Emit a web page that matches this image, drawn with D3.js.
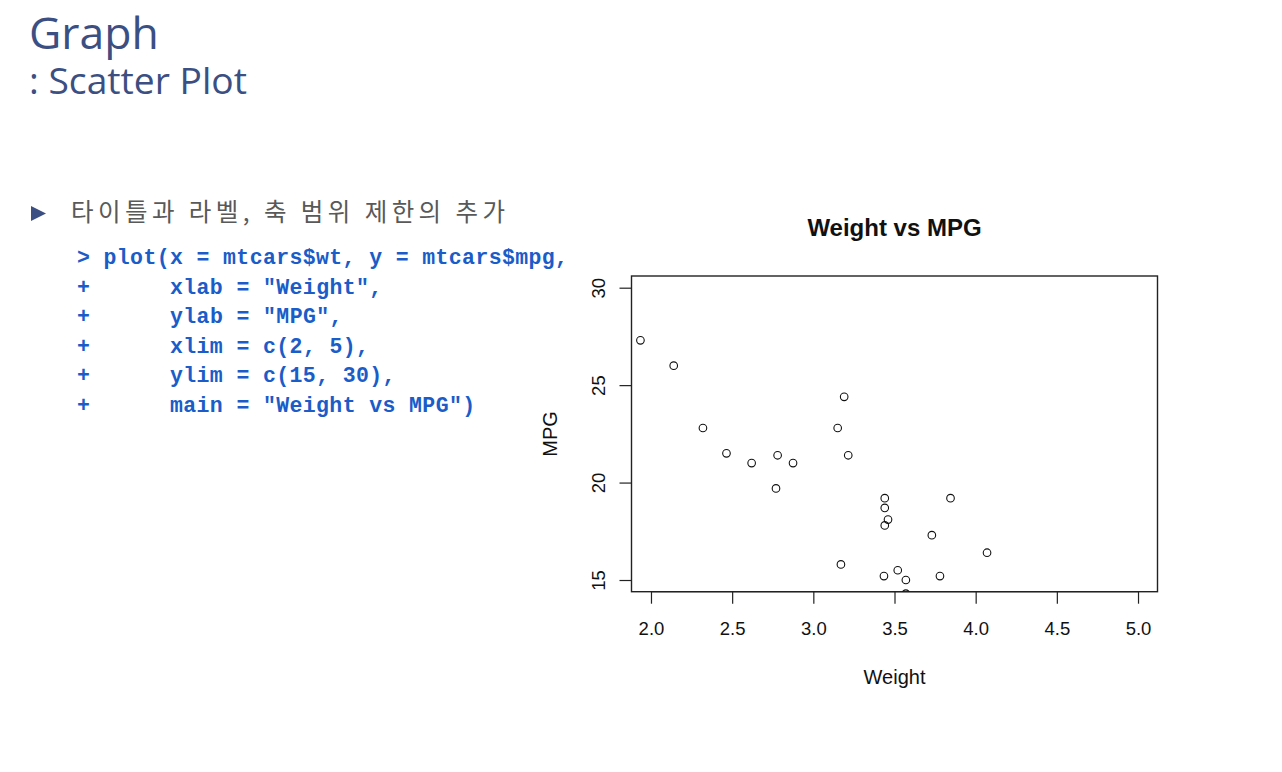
<!DOCTYPE html>
<html><head><meta charset="utf-8">
<script src="https://cdn.jsdelivr.net/npm/d3@7"></script>
<style>
html,body{margin:0;padding:0;background:#fff;}
svg{display:block;}
</style></head>
<body>
<svg id="c" width="1282" height="772"></svg>
<script>
// Data (visible mtcars points: weight vs mpg)
const weights = [1.935, 2.140, 2.320, 2.465, 2.620, 2.770, 2.780, 2.875, 3.150, 3.170, 3.190, 3.215,
                 3.435, 3.440, 3.440, 3.440, 3.460, 3.520, 3.570, 3.570, 3.730, 3.780, 3.845, 4.070];
const mpgs    = [27.3, 26.0, 22.8, 21.5, 21.0, 19.7, 21.4, 21.0, 22.8, 15.8, 24.4, 21.4,
                 15.2, 19.2, 18.7, 17.8, 18.1, 15.5, 15.0, 14.3, 17.3, 15.2, 19.2, 16.4];
const xTicks = [2.0, 2.5, 3.0, 3.5, 4.0, 4.5, 5.0];
const yTicks = [15, 20, 25, 30];
const xlim = [2, 5];
const ylim = [15, 30];
const codeLines = [
  "> plot(x = mtcars$wt, y = mtcars$mpg,",
  "+      xlab = \"Weight\",",
  "+      ylab = \"MPG\",",
  "+      xlim = c(2, 5),",
  "+      ylim = c(15, 30),",
  "+      main = \"Weight vs MPG\")"
];

const svg = d3.select("#c");

// Slide header
svg.append("text").attr("x", 29).attr("y", 49)
  .attr("font-family", "Open Sans, sans-serif").attr("font-size", 44.5)
  .attr("fill", "#3b4f82").text("Graph");
const sub = svg.append("text").attr("x", 29).attr("y", 94)
  .attr("font-family", "Open Sans, sans-serif").attr("font-size", 33)
  .attr("fill", "#3b4f82").text(": Scatter Plot");
{
  const w = sub.node().getComputedTextLength();
  if (w > 0) sub.attr("font-size", 33 * 218 / w);
}

// Bullet
svg.append("path").attr("d", "M31,206 L46,213.5 L31,221 Z").attr("fill", "#3b4f82");
const korText = "타이틀과 라벨, 축 범위 제한의 추가";
const kor = svg.append("text").attr("x", 71).attr("y", 221)
  .attr("font-family", "Noto Sans CJK KR, sans-serif").attr("font-size", 24.5)
  .attr("fill", "#595959").text(korText);
{
  const w = kor.node().getComputedTextLength();
  if (w > 0 && w < 434) kor.attr("letter-spacing", (434 - w) / (korText.length - 1));
}

// Code
const code = svg.append("g");
codeLines.forEach((t, i) => {
  code.append("text").attr("x", 77).attr("y", 264 + i * 29.6)
    .attr("font-family", "Liberation Mono, DejaVu Sans Mono, monospace")
    .attr("font-weight", "bold").attr("font-size", 21.5)
    .attr("fill", "#1a5cc8").attr("xml:space", "preserve")
    .style("white-space", "pre")
    .attr("textLength", t.length * 13.27).attr("lengthAdjust", "spacing")
    .text(t);
});

// Plot
const L = 631.5, R = 1157.5, T = 276, B = 591.7;
const xpad = (xlim[1] - xlim[0]) * 0.04, ypad = (ylim[1] - ylim[0]) * 0.04;
const x = d3.scaleLinear().domain([xlim[0] - xpad, xlim[1] + xpad]).range([L, R]);
const y = d3.scaleLinear().domain([ylim[0] - ypad, ylim[1] + ypad]).range([B, T]);

svg.append("defs").append("clipPath").attr("id", "clip")
  .append("rect").attr("x", L).attr("y", T).attr("width", R - L).attr("height", B - T);

const font = "Liberation Sans, Arial, sans-serif";

// X axis
const xAxis = d3.axisBottom(x).tickValues(xTicks).tickFormat(d3.format(".1f"))
  .tickSize(12).tickPadding(18);
const gx = svg.append("g").attr("transform", `translate(0,${B})`).call(xAxis);
gx.select(".domain").attr("d", `M${x(xTicks[0])},0H${x(xTicks[xTicks.length-1])}`)
  .attr("stroke", "#222").attr("stroke-width", 1.2);
gx.selectAll(".tick line").attr("stroke", "#222").attr("stroke-width", 1.2);
gx.selectAll(".tick text").attr("font-family", font).attr("font-size", 18.5).attr("fill", "#111");

// Y axis
const yAxis = d3.axisLeft(y).tickValues(yTicks).tickSize(12).tickPadding(0).tickFormat(d3.format("d"));
const gy = svg.append("g").attr("transform", `translate(${L},0)`).call(yAxis);
gy.select(".domain").remove();
gy.selectAll(".tick line").attr("stroke", "#222").attr("stroke-width", 1.2);
gy.selectAll(".tick text").attr("font-family", font).attr("font-size", 18.5).attr("fill", "#111")
  .attr("transform", "rotate(-90)").attr("x", 0).attr("y", -33)
  .attr("dy", "0.35em").attr("text-anchor", "middle");

// Box
svg.append("rect").attr("x", L).attr("y", T).attr("width", R - L).attr("height", B - T)
  .attr("fill", "none").attr("stroke", "#222").attr("stroke-width", 1.4);

// Points
svg.append("g").attr("clip-path", "url(#clip)").selectAll("circle")
  .data(weights.map((w, i) => [w, mpgs[i]])).join("circle")
  .attr("cx", d => x(d[0])).attr("cy", d => y(d[1])).attr("r", 3.8)
  .attr("fill", "none").attr("stroke", "#111").attr("stroke-width", 1.1);

// Titles
svg.append("text").attr("x", (L + R) / 2).attr("y", 236).attr("text-anchor", "middle")
  .attr("font-family", font).attr("font-weight", "bold").attr("font-size", 24)
  .attr("fill", "#111").text("Weight vs MPG");
svg.append("text").attr("x", (L + R) / 2).attr("y", 684).attr("text-anchor", "middle")
  .attr("font-family", font).attr("font-size", 20).attr("fill", "#111").text("Weight");
svg.append("text").attr("transform", `translate(557,${(T + B) / 2}) rotate(-90)`)
  .attr("text-anchor", "middle")
  .attr("font-family", font).attr("font-size", 20).attr("fill", "#111").text("MPG");
</script>
</body></html>
